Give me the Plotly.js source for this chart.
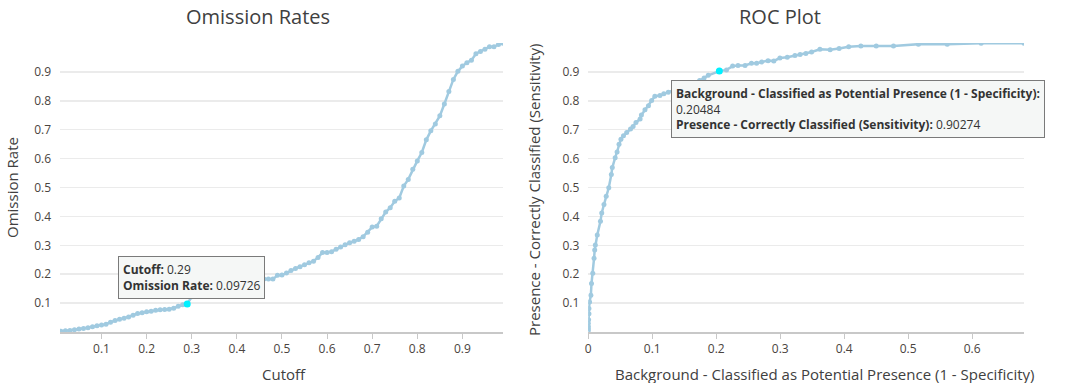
<!DOCTYPE html>
<html>
<head>
<meta charset="utf-8">
<script src="https://cdn.plot.ly/plotly-3.0.1.min.js"></script>
<style>
  html, body { margin: 0; padding: 0; background: #ffffff; }
  #chart { width: 1070px; height: 383px; }
</style>
</head>
<body>
<div id="chart"></div>
<script>
// ---------------- DATA ----------------
const chartTitles = ["Omission Rates", "ROC Plot"];
const omissionXTitle = "Cutoff";
const omissionYTitle = "Omission Rate";
const rocXTitle = "Background - Classified as Potential Presence (1 - Specificity)";
const rocYTitle = "Presence - Correctly Classified (Sensitivity)";

const cutoff = [
  0.01,0.02,0.03,0.04,0.05,0.06,0.07,0.08,0.09,0.10,
  0.11,0.12,0.13,0.14,0.15,0.16,0.17,0.18,0.19,0.20,
  0.21,0.22,0.23,0.24,0.25,0.26,0.27,0.28,0.29,0.30,
  0.31,0.32,0.33,0.34,0.35,0.36,0.37,0.38,0.39,0.40,
  0.41,0.42,0.43,0.44,0.45,0.46,0.47,0.48,0.49,0.50,
  0.51,0.52,0.53,0.54,0.55,0.56,0.57,0.58,0.59,0.60,
  0.61,0.62,0.63,0.64,0.65,0.66,0.67,0.68,0.69,0.70,
  0.71,0.72,0.73,0.74,0.75,0.76,0.77,0.78,0.79,0.80,
  0.81,0.82,0.83,0.84,0.85,0.86,0.87,0.88,0.89,0.90,
  0.91,0.92,0.93,0.94,0.95,0.96,0.97,0.98,0.99
];
const omissionRate = [
  0.003,0.004,0.005,0.008,0.010,0.012,0.015,0.018,0.022,0.024,
  0.027,0.034,0.040,0.044,0.048,0.052,0.058,0.064,0.067,0.070,
  0.072,0.075,0.077,0.078,0.079,0.082,0.089,0.094,0.09726,0.122,
  0.128,0.133,0.138,0.143,0.148,0.153,0.158,0.162,0.166,0.170,
  0.173,0.176,0.179,0.181,0.183,0.183,0.183,0.183,0.196,0.197,
  0.204,0.213,0.220,0.226,0.233,0.240,0.245,0.258,0.275,0.275,
  0.278,0.286,0.294,0.302,0.309,0.314,0.320,0.330,0.345,0.363,
  0.366,0.392,0.415,0.430,0.452,0.464,0.505,0.528,0.563,0.592,
  0.621,0.665,0.696,0.720,0.748,0.789,0.832,0.874,0.902,0.920,
  0.932,0.940,0.963,0.971,0.978,0.987,0.987,0.995,0.999
];
const omissionHighlightIndex = 28;   // cutoff 0.29

const rocBackground = [
  0,0,0,0,0.0005,0.001,0.001,0.002,0.004,0.005,
  0.007,0.009,0.010,0.011,0.014,0.019,0.021,0.0245,0.028,0.032,
  0.036,0.0375,0.042,0.045,0.048,0.051,0.055,0.060,0.066,0.070,
  0.0745,0.081,0.083,0.0886,0.094,0.099,0.104,0.112,0.118,0.125,
  0.135,0.145,0.155,0.165,0.174,0.181,0.1875,0.20484,0.216,0.2256,
  0.234,0.245,0.255,0.263,0.271,0.281,0.290,0.2995,0.311,0.323,
  0.331,0.340,0.349,0.362,0.378,0.392,0.407,0.426,0.450,0.477,
  0.516,0.561,0.614,0.681
];
const rocSensitivity = [
  0.005,0.012,0.020,0.030,0.042,0.063,0.081,0.104,0.127,0.168,
  0.203,0.255,0.284,0.301,0.336,0.383,0.412,0.441,0.470,0.499,
  0.545,0.569,0.603,0.623,0.650,0.667,0.679,0.690,0.702,0.711,
  0.725,0.737,0.751,0.769,0.783,0.801,0.816,0.818,0.824,0.830,
  0.838,0.846,0.854,0.862,0.870,0.879,0.888,0.90274,0.907,0.920,
  0.922,0.922,0.930,0.930,0.934,0.939,0.938,0.948,0.951,0.957,
  0.960,0.964,0.969,0.978,0.977,0.981,0.987,0.990,0.990,0.990,
  0.996,0.996,0.999,0.999
];
const rocHighlightIndex = 47;

const yTickVals = [0.1,0.2,0.3,0.4,0.5,0.6,0.7,0.8,0.9];
const omissionXTickVals = [0.1,0.2,0.3,0.4,0.5,0.6,0.7,0.8,0.9];
const rocXTickVals = [0,0.1,0.2,0.3,0.4,0.5,0.6];

// ---------------- LAYOUT HELPERS ----------------
const W = 1070, H = 383;
const M = { l: 60, r: 46, t: 43, b: 51 };
const PW = W - M.l - M.r, PH = H - M.t - M.b;
const px = x => (x - M.l) / PW;
const py = y => (H - M.b - y) / PH;

const FONT = '"Segoe UI", "Open Sans", sans-serif';
const lineColor = '#a0cae0';
const tickColor = '#4a4440';

const commonX = {
  showgrid: false, zeroline: false, showline: true, linecolor: '#c8c8c8', linewidth: 2,
  ticks: 'outside', ticklen: 5, tickwidth: 1, tickcolor: '#c8c8c8',
  tickfont: { family: FONT, size: 12, color: tickColor }, fixedrange: true
};
const commonY = {
  range: [0, 1], tickvals: yTickVals, ticktext: yTickVals.map(String),
  showgrid: true, gridcolor: '#ebebeb', gridwidth: 1.5, zeroline: false, showline: false,
  ticks: '', ticklabelstandoff: 8,
  tickfont: { family: FONT, size: 12, color: tickColor }, fixedrange: true
};

const traces = [
  { x: cutoff, y: omissionRate, xaxis: 'x', yaxis: 'y', type: 'scatter', mode: 'lines+markers',
    line: { color: lineColor, width: 2.5 }, marker: { color: lineColor, size: 5 }, hoverinfo: 'skip' },
  { x: [cutoff[omissionHighlightIndex]], y: [omissionRate[omissionHighlightIndex]], xaxis: 'x', yaxis: 'y',
    type: 'scatter', mode: 'markers', marker: { color: '#00f0ff', size: 7 }, hoverinfo: 'skip' },
  { x: rocBackground, y: rocSensitivity, xaxis: 'x2', yaxis: 'y2', type: 'scatter', mode: 'lines+markers',
    line: { color: lineColor, width: 2.5 }, marker: { color: lineColor, size: 5 }, hoverinfo: 'skip' },
  { x: [rocBackground[rocHighlightIndex]], y: [rocSensitivity[rocHighlightIndex]], xaxis: 'x2', yaxis: 'y2',
    type: 'scatter', mode: 'markers', marker: { color: '#00f0ff', size: 7 }, hoverinfo: 'skip' }
];

const titleFont = { family: FONT, size: 20, color: '#404040' };
const axisTitleFont = { family: FONT, size: 15, color: '#404040' };
const tipFont = { family: FONT, size: 12, color: '#333333' };

const annotations = [
  { text: chartTitles[0], x: px(258), y: py(17), xref: 'paper', yref: 'paper', showarrow: false, xanchor: 'center', yanchor: 'middle', font: titleFont },
  { text: chartTitles[1], x: px(780), y: py(17), xref: 'paper', yref: 'paper', showarrow: false, xanchor: 'center', yanchor: 'middle', font: titleFont },
  { text: omissionXTitle, x: px(284), y: py(374), xref: 'paper', yref: 'paper', showarrow: false, xanchor: 'center', yanchor: 'middle', font: axisTitleFont },
  { text: rocXTitle, x: px(824), y: py(374), xref: 'paper', yref: 'paper', showarrow: false, xanchor: 'center', yanchor: 'middle', font: axisTitleFont },
  { text: omissionYTitle, x: px(12), y: py(188), xref: 'paper', yref: 'paper', showarrow: false, textangle: -90, xanchor: 'center', yanchor: 'middle', font: axisTitleFont },
  { text: rocYTitle, x: px(534), y: py(190), xref: 'paper', yref: 'paper', showarrow: false, textangle: -90, xanchor: 'center', yanchor: 'middle', font: axisTitleFont },
  { text: '<b>Cutoff:</b> ' + cutoff[omissionHighlightIndex] + '<br><b>Omission Rate:</b> ' + omissionRate[omissionHighlightIndex],
    x: px(118), y: py(256), xref: 'paper', yref: 'paper', showarrow: false, xanchor: 'left', yanchor: 'top', align: 'left',
    bgcolor: '#f5f7f6', bordercolor: '#7a7a7a', borderwidth: 1, borderpad: 4, font: tipFont },
  { text: '<b>' + rocXTitle + ':</b><br>' + rocBackground[rocHighlightIndex] + '<br><b>' + rocYTitle + ':</b> ' + rocSensitivity[rocHighlightIndex],
    x: px(670.5), y: py(80), xref: 'paper', yref: 'paper', showarrow: false, xanchor: 'left', yanchor: 'top', align: 'left',
    bgcolor: '#f5f7f6', bordercolor: '#7a7a7a', borderwidth: 1, borderpad: 4, font: tipFont }
];

const layout = {
  width: W, height: H, margin: M,
  paper_bgcolor: '#ffffff', plot_bgcolor: '#ffffff',
  showlegend: false, hovermode: false,
  font: { family: FONT, color: tickColor },
  xaxis: Object.assign({}, commonX, { domain: [0, px(503)], range: [0.008, 0.99], tickvals: omissionXTickVals, ticktext: omissionXTickVals.map(String), anchor: 'y' }),
  yaxis: Object.assign({}, commonY, { anchor: 'x' }),
  xaxis2: Object.assign({}, commonX, { domain: [px(588.3), 1], range: [0, 0.681], tickvals: rocXTickVals, ticktext: rocXTickVals.map(String), anchor: 'y2' }),
  yaxis2: Object.assign({}, commonY, { anchor: 'x2' }),
  annotations: annotations
};

Plotly.newPlot('chart', traces, layout, { displayModeBar: false, staticPlot: true });
</script>
</body>
</html>
